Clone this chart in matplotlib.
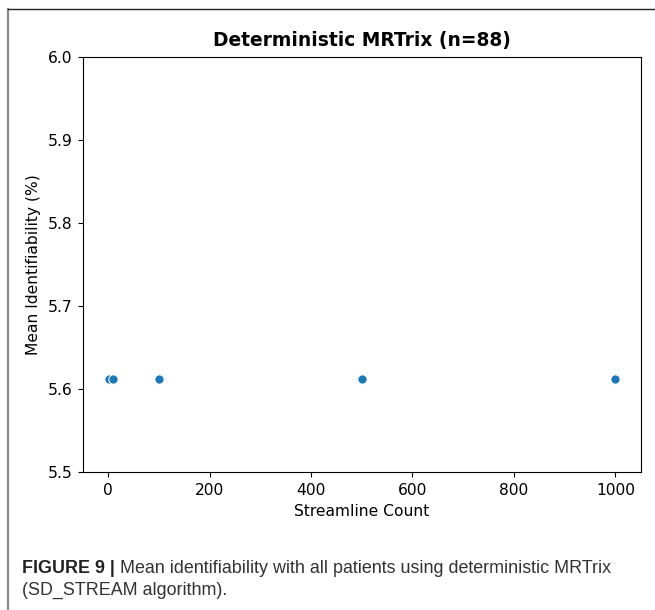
import matplotlib
matplotlib.use("Agg")
import matplotlib.pyplot as plt
from matplotlib import font_manager
from matplotlib.lines import Line2D

# data
streamline_counts = [1, 10, 100, 500, 1000]
mean_identifiability = [5.612, 5.612, 5.612, 5.612, 5.612]

title = "Deterministic MRTrix (n=88)"
x_label = "Streamline Count"
y_label = "Mean Identifiability (%)"
caption_bold = "FIGURE 9 |"
caption_line1 = " Mean identifiability with all patients using deterministic MRTrix"
caption_line2 = "(SD_STREAM algorithm)."

# the panel looks like a default figure enlarged by ~12 %
scale = 1.12
plt.rcParams.update({
    "font.size": 10 * scale,
    "xtick.major.size": 3.5 * scale,
    "ytick.major.size": 3.5 * scale,
    "xtick.major.pad": 3.5 * scale,
    "ytick.major.pad": 3.5 * scale,
    "axes.labelpad": 4 * scale,
    "axes.titlepad": 8,
})

W, H = 655, 610
fig = plt.figure(figsize=(W / 100, H / 100), dpi=100)

# axes placed in pixel terms of the reference
left, right, top, bottom = 83.3, 640.7, 56.7, 471.7
ax = fig.add_axes([left / W, 1 - bottom / H, (right - left) / W, (bottom - top) / H])
ax.scatter(streamline_counts, mean_identifiability, s=36 * scale ** 2, color="#1f77b4",
           edgecolor="white", linewidth=0.75, zorder=3)
ax.set_ylim(5.5, 6.0)
ax.set_yticks([5.5, 5.6, 5.7, 5.8, 5.9, 6.0])
ax.set_xticks([0, 200, 400, 600, 800, 1000])
ax.set_title(title, fontweight="bold", fontsize=12 * scale)
ax.set_xlabel(x_label)
ax.set_ylabel(y_label)

# outer frame of the figure panel
fig.add_artist(Line2D([7.5 / W, 7.5 / W], [0, 1 - 9.3 / H], transform=fig.transFigure,
                      color="#8a8a8a", linewidth=1.6))
fig.add_artist(Line2D([7.5 / W, 1], [1 - 9.3 / H, 1 - 9.3 / H], transform=fig.transFigure,
                      color="#222222", linewidth=1.0))

# caption font
names = {f.name for f in font_manager.fontManager.ttflist}
cap_font = "Liberation Sans Narrow" if "Liberation Sans Narrow" in names else "Liberation Sans"
cap_size = 15.5 if cap_font == "Liberation Sans Narrow" else 12.85

cx = 21.7 / W
t1 = fig.text(cx, 1 - 568.5 / H, caption_bold, family=cap_font, fontweight="bold",
              fontsize=cap_size, color="#222222", va="center")
fig.canvas.draw()
bb = t1.get_window_extent(fig.canvas.get_renderer())
fig.text(bb.x1 / W, 1 - 568.5 / H, caption_line1, family=cap_font, fontsize=cap_size,
         color="#333333", va="center")
fig.text(cx, 1 - 590.5 / H, caption_line2, family=cap_font, fontsize=cap_size,
         color="#333333", va="center")

fig.savefig("out.png", dpi=100)
